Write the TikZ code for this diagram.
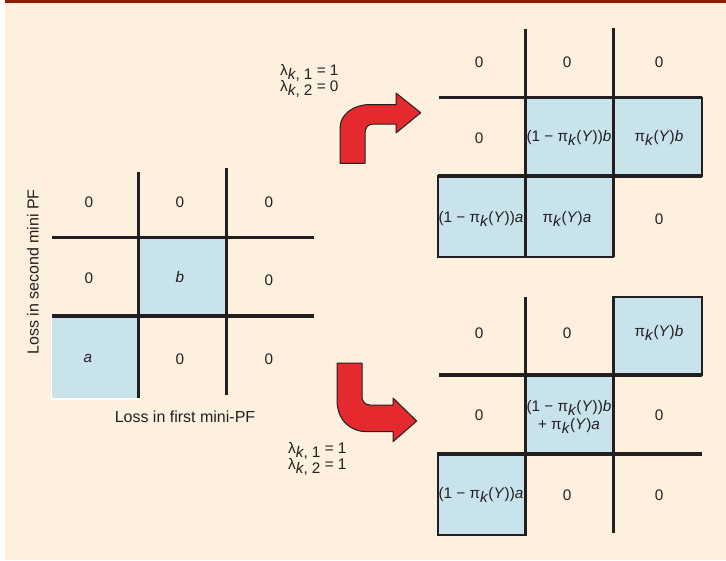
\documentclass[tikz,border=0pt]{standalone}
\usepackage{fontspec}
\setmainfont{Liberation Sans}
\definecolor{bg}{HTML}{FEF0DE}
\definecolor{topbar}{HTML}{8B1C00}
\definecolor{cellblue}{HTML}{C8E3EC}
\definecolor{ink}{HTML}{231F20}
\definecolor{arrowred}{HTML}{E42A2E}
\newcommand{\pik}{π\raisebox{-0.4ex}{\textit{k}}}
\newcommand{\lamk}[2]{λ\raisebox{-0.4ex}{\textit{k}, #1} = #2}
\begin{document}
\begin{tikzpicture}[x=1pt,y=-1pt,
  gridline/.style={line width=3.5pt, draw=ink},
  cellbox/.style={fill=cellblue, draw=ink, line width=2pt},
  lbl/.style={font=\fontsize{15.3}{18}\selectfont, inner sep=0pt, text=ink},
  axlbl/.style={font=\fontsize{16}{19}\selectfont, inner sep=0pt, text=ink},
  redarrow/.style={fill=arrowred, draw=ink, line width=1pt, line join=round}]
\path[use as bounding box] (0,0) rectangle (726,560);
% background
\fill[white] (0,0) rectangle (726,560);
\fill[bg] (4.5,0) rectangle (726,560);
\fill[topbar] (4.5,0) rectangle (726,3);

% ---------- left grid ----------
\fill[cellblue] (138,237) rectangle (227,316);
\fill[cellblue, draw=white, line width=1.2pt] (51.7,316) rectangle (138,399);
\draw[gridline] (138.3,172) -- (138.3,398);
\draw[gridline] (226.7,168) -- (226.7,395);
\draw[gridline] (52,237.3) -- (314,237.3);
\draw[gridline] (52,316) -- (314,316);
\node[lbl] (l11) at (89,202) {0};
\node[lbl] (l12) at (180,202) {0};
\node[lbl] (l13) at (269,202) {0};
\node[lbl] (l21) at (89,278) {0};
\node[lbl] (l22) at (180,277) {\textit{b}};
\node[lbl] (l23) at (269,280) {0};
\node[lbl] (l31) at (88,358) {\textit{a}};
\node[lbl] (l32) at (180,359) {0};
\node[lbl] (l33) at (269,359) {0};
\node[axlbl] (xlab) at (185,417) {Loss in first mini-PF};
\node[axlbl, rotate=90] (ylab) at (33,272) {Loss in second mini PF};

% ---------- top-right grid ----------
\draw[cellbox] (613.3,97.7) rectangle (701.7,176);
\draw[cellbox] (525.7,97.7) rectangle (613.3,176);
\draw[cellbox] (437.5,176) rectangle (525.7,257);
\draw[cellbox] (525.7,176) rectangle (613.3,257);
\draw[gridline] (525.7,29) -- (525.7,257);
\draw[gridline] (613.3,28) -- (613.3,257);
\draw[gridline] (439,97.7) -- (701.7,97.7);
\draw[gridline] (438,176) -- (701.7,176);
\node[lbl] (a11) at (479,62) {0};
\node[lbl] (a12) at (567,62) {0};
\node[lbl] (a13) at (659,62) {0};
\node[lbl] (a21) at (479,138) {0};
\node[lbl] (a22) at (569,138) {(1 − \pik(\textit{Y}))\textit{b}};
\node[lbl] (a23) at (659,138) {\pik(\textit{Y})\textit{b}};
\node[lbl] (a31) at (481,219) {(1 − \pik(\textit{Y}))\textit{a}};
\node[lbl] (a32) at (567,219) {\pik(\textit{Y})\textit{a}};
\node[lbl] (a33) at (659,219) {0};

% ---------- bottom-right grid ----------
\draw[cellbox] (613.3,297) rectangle (701.7,375);
\draw[cellbox] (525.7,375) rectangle (613.3,454);
\draw[cellbox] (437.5,454) rectangle (525.7,535);
\draw[gridline] (525.7,297) -- (525.7,535);
\draw[gridline] (613.3,297) -- (613.3,533);
\draw[gridline] (439,375) -- (701.7,375);
\draw[gridline] (437,454) -- (701.7,454);
\node[lbl] (b11) at (479,333) {0};
\node[lbl] (b12) at (567,333) {0};
\node[lbl] (b13) at (659,333) {\pik(\textit{Y})\textit{b}};
\node[lbl] (b21) at (479,415) {0};
\node[lbl, align=center] (b22) at (569,417) {(1 − \pik(\textit{Y}))\textit{b}\\+ \pik(\textit{Y})\textit{a}};
\node[lbl] (b23) at (659,415) {0};
\node[lbl] (b31) at (481,495) {(1 − \pik(\textit{Y}))\textit{a}};
\node[lbl] (b32) at (567,495) {0};
\node[lbl] (b33) at (659,495) {0};

% ---------- arrows ----------
\draw[redarrow] (340,163.3) -- (340,128)
  .. controls (340,114) and (354,104.5) .. (370,104.5)
  -- (396,104.5) -- (396,93) -- (420.7,112.7) -- (396,133) -- (396,124)
  -- (373,124) .. controls (368,124) and (365,128) .. (365,133)
  -- (365,163.3) -- cycle;
\draw[redarrow] (337,363) -- (337,400)
  .. controls (337,420) and (350,431.7) .. (367,431.7)
  -- (393,431.7) -- (393,441.7) -- (416.7,421) -- (393,398) -- (393,405)
  -- (370,405) .. controls (365,405) and (362,401) .. (362,397)
  -- (362,363) -- cycle;

% ---------- lambda labels ----------
\node[lbl, anchor=west] (t1) at (280,73) {\lamk{1}{1}};
\node[lbl, anchor=west] (t2) at (280,89) {\lamk{2}{0}};
\node[lbl, anchor=west] (u1) at (288,451) {\lamk{1}{1}};
\node[lbl, anchor=west] (u2) at (288,467) {\lamk{2}{1}};
\end{tikzpicture}
\end{document}
